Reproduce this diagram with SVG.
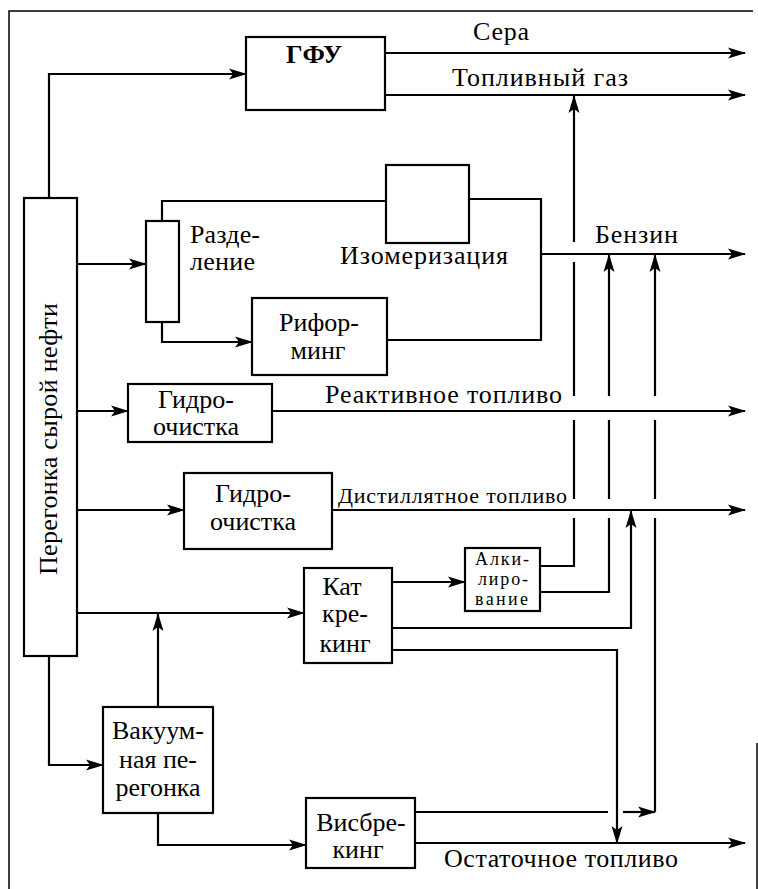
<svg xmlns="http://www.w3.org/2000/svg" width="758" height="889" viewBox="0 0 758 889">
<defs>
<marker id="ah" markerUnits="userSpaceOnUse" markerWidth="18" markerHeight="12" viewBox="0 0 18 12" refX="17" refY="6" orient="auto">
<path d="M0,0.5 L18,6 L0,11.5 L4,6 z" fill="#000"/>
</marker>
</defs>
<style>
.b{fill:#fff;stroke:#000;stroke-width:2.2}
.c{fill:none;stroke:#000;stroke-width:2.2}
.a{marker-end:url(#ah)}
.f{fill:none;stroke:#000;stroke-width:1.5}
text{font-family:"Liberation Serif","Times New Roman",serif;font-size:26px;fill:#000}
.m{text-anchor:middle}
.s{font-size:18px}
.d{font-size:22px}
</style>
<rect width="758" height="889" fill="#fff"/>
<g id="frame">
<path class="f" d="M9,889 V11 H753"/>
<path class="f" d="M757,743 V889"/>
</g>
<g id="connectors">
<path class="c a" d="M49,198 V74 H246"/>
<path class="c a" d="M385,53 H745"/>
<path class="c a" d="M385,95 H745"/>
<path class="c a" d="M77,264 H146"/>
<path class="c" d="M162,221 V201 H386"/>
<path class="c" d="M469,199 H541 V340 H387"/>
<path class="c a" d="M541,254 H745"/>
<path class="c a" d="M162,322 V342 H252"/>
<path class="c a" d="M77,411 H128"/>
<path class="c a" d="M272,411 H745"/>
<path class="c a" d="M77,510 H184"/>
<path class="c a" d="M332,510 H745"/>
<path class="c a" d="M77,613 H304"/>
<path class="c a" d="M49,656 V765 H103"/>
<path class="c a" d="M158,707 V614"/>
<path class="c a" d="M158,813 V845 H306"/>
<path class="c a" d="M392,582 H465"/>
<path class="c" d="M540,566 H574 V518 M574,499 V420 M574,396 V262"/>
<path class="c a" d="M574,242 V96"/>
<path class="c" d="M540,592 H609 V518 M609,499 V420"/>
<path class="c a" d="M609,396 V255"/>
<path class="c a" d="M392,628 H631 V511"/>
<path class="c a" d="M392,650 H617 V843"/>
<path class="c" d="M415,812 H608"/>
<path class="c a" d="M623,812 H655"/>
<path class="c" d="M655,812 V518 M655,499 V420"/>
<path class="c a" d="M655,396 V255"/>
<path class="c a" d="M415,843 H745"/>
</g>
<g id="labels">
<text x="473" y="40" textLength="56" lengthAdjust="spacing">Сера</text>
<text x="452" y="86" textLength="176" lengthAdjust="spacing">Топливный газ</text>
<text x="595" y="243" textLength="83" lengthAdjust="spacing">Бензин</text>
<text x="325" y="403" textLength="237" lengthAdjust="spacing">Реактивное топливо</text>
<text class="d" x="338" y="503" textLength="229" lengthAdjust="spacing">Дистиллятное топливо</text>
<text x="444" y="867" textLength="234" lengthAdjust="spacing">Остаточное топливо</text>
</g>
<g id="n-distill">
<rect class="b" x="24" y="198" width="53" height="458"/>
<text transform="translate(57,439) rotate(-90)" class="m" textLength="272" lengthAdjust="spacing">Перегонка сырой нефти</text>
</g>
<g id="n-gfu">
<rect class="b" x="246" y="37" width="139" height="73"/>
<text x="314" y="63" class="m" font-weight="bold" font-size="25">ГФУ</text>
</g>
<g id="n-separation">
<rect class="b" x="146" y="221" width="33" height="101"/>
<text x="190" y="243" textLength="70" lengthAdjust="spacing">Разде-</text>
<text x="190" y="270" textLength="65" lengthAdjust="spacing">ление</text>
</g>
<g id="n-isomer">
<rect class="b" x="386" y="165" width="83" height="78"/>
<text x="340" y="264" textLength="168" lengthAdjust="spacing">Изомеризация</text>
</g>
<g id="n-reforming">
<rect class="b" x="252" y="298" width="135" height="77"/>
<text x="319" y="331" class="m">Рифор-</text>
<text x="318" y="359" class="m">минг</text>
</g>
<g id="n-hydro1">
<rect class="b" x="128" y="384" width="144" height="58"/>
<text x="196" y="408" class="m">Гидро-</text>
<text x="196" y="435" class="m">очистка</text>
</g>
<g id="n-hydro2">
<rect class="b" x="184" y="473" width="148" height="76"/>
<text x="253" y="502" class="m">Гидро-</text>
<text x="253" y="530" class="m">очистка</text>
</g>
<g id="n-catcracking">
<rect class="b" x="304" y="568" width="88" height="95"/>
<text x="342" y="595" class="m">Кат</text>
<text x="345" y="622" class="m">кре-</text>
<text x="345" y="652" class="m">кинг</text>
</g>
<g id="n-alkylation">
<rect class="b" x="465" y="548" width="75" height="63"/>
<text x="475" y="565" class="s" textLength="54" lengthAdjust="spacing">Алки-</text>
<text x="478" y="585" class="s" textLength="50" lengthAdjust="spacing">лиро-</text>
<text x="475" y="605" class="s" textLength="53" lengthAdjust="spacing">вание</text>
</g>
<g id="n-vacuum">
<rect class="b" x="103" y="707" width="110" height="106"/>
<text x="158" y="739" class="m">Вакуум-</text>
<text x="158" y="768" class="m">ная пе-</text>
<text x="158" y="796" class="m">регонка</text>
</g>
<g id="n-visbreaking">
<rect class="b" x="306" y="798" width="109" height="70"/>
<text x="361" y="831" class="m">Висбре-</text>
<text x="358" y="858" class="m">кинг</text>
</g>
</svg>
